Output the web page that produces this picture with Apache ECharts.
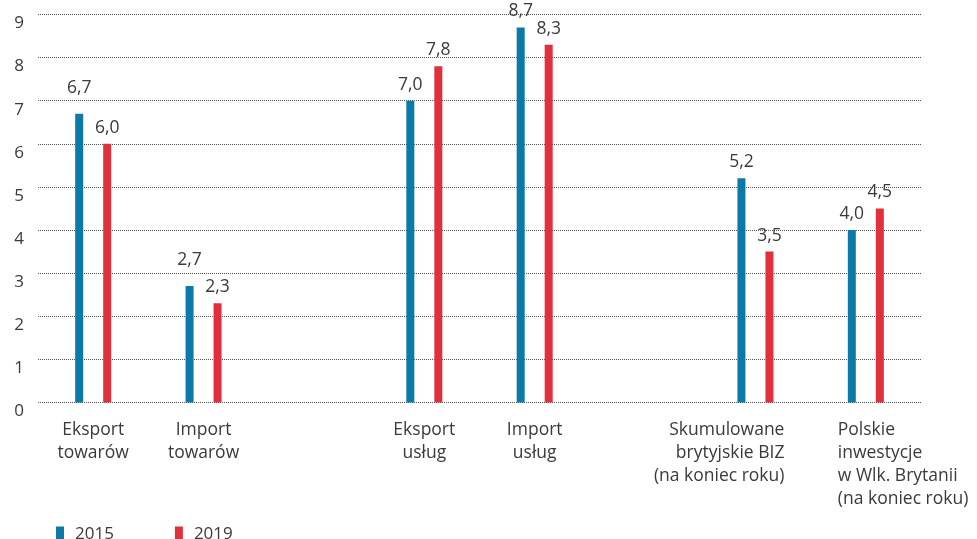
<!DOCTYPE html>
<html><head><meta charset="utf-8">
<script src="https://cdn.jsdelivr.net/npm/echarts@6/dist/echarts.min.js"></script>
<style>html,body{margin:0;padding:0;background:#fff}#c{width:977px;height:539px}</style>
</head><body><div id="c"></div>
<script>
const categories = ['Eksport\ntowarów','Import\ntowarów','','Eksport\nusług','Import\nusług','','Skumulowane\nbrytyjskie BIZ\n(na koniec roku)','Polskie\ninwestycje\nw Wlk. Brytanii\n(na koniec roku)'];
const values2015 = [6.7, 2.7, null, 7.0, 8.7, null, 5.2, 4.0];
const values2019 = [6.0, 2.3, null, 7.8, 8.3, null, 3.5, 4.5];
const yTicks = [0,1,2,3,4,5,6,7,8,9];
const seriesNames = ['2015','2019'];

const FONT = 'Open Sans';
const TXT = '#3a3a3a';
const chart = echarts.init(document.getElementById('c'), null, {renderer:'canvas'});

const catData = categories.map((c, i) => {
  if (i === 6) return {value: c, textStyle: {align: 'right', padding: [0, -29, 0, 0]}};
  if (i === 7) return {value: c, textStyle: {align: 'left', padding: [0, 0, 0, -28]}};
  return c;
});
const fmt = p => p.value == null ? '' : p.value.toFixed(1).replace('.', ',');
const lifted = [0, 1];
const d2015 = values2015.map((v, i) => lifted.includes(i) ? {value: v, label: {distance: 17}} : v);

chart.setOption({
  animation: false,
  grid: {left: 38, right: 56, top: 14.5, bottom: 136.5, containLabel: false},
  legend: {
    left: 51, top: 521, itemWidth: 8, itemHeight: 16, itemGap: 61,
    icon: 'rect',
    textStyle: {fontFamily: FONT, fontSize: 17, color: TXT, padding: [0,0,0,6]},
    data: seriesNames
  },
  xAxis: {
    type: 'category', data: catData,
    axisLine: {show: false}, axisTick: {show: false},
    axisLabel: {interval: 0, margin: 16, fontFamily: FONT, fontSize: 17.5, lineHeight: 23, color: TXT}
  },
  yAxis: {
    type: 'value', min: 0, max: 9, interval: 1,
    axisLine: {show: false}, axisTick: {show: false},
    axisLabel: {margin: 14, fontFamily: FONT, fontSize: 17, color: TXT, verticalAlign: 'top', lineHeight: 18,
      formatter: v => yTicks.includes(v) ? String(v) : ''},
    splitLine: {lineStyle: {color: '#555', type: [1, 1], width: 1}}
  },
  series: [
    {name: seriesNames[0], type: 'bar', data: d2015, barWidth: 8, barGap: '250%',
      itemStyle: {color: '#0b7aa8'},
      label: {show: true, position: 'top', distance: 7, formatter: fmt, fontFamily: FONT, fontSize: 17.5, color: TXT}},
    {name: seriesNames[1], type: 'bar', data: values2019, barWidth: 8,
      itemStyle: {color: '#e02f3d'},
      label: {show: true, position: 'top', distance: 7, formatter: fmt, fontFamily: FONT, fontSize: 17.5, color: TXT}}
  ]
});
</script></body></html>
